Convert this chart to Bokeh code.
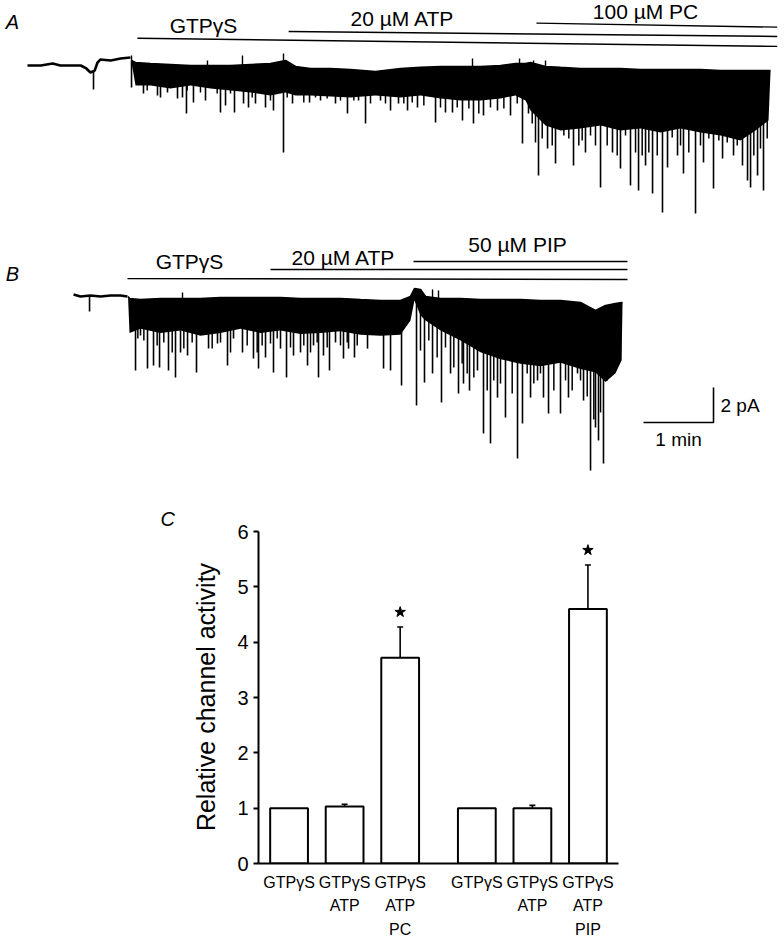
import numpy as np
from bokeh.plotting import figure
from bokeh.layouts import column, row
from bokeh.models import Range1d, FactorRange, ColumnDataSource, Whisker, TeeHead, FixedTicker
from bokeh.core.properties import value
from bokeh.embed import file_html
from bokeh.resources import INLINE

FONT = "Liberation Sans"

# ---------------- Panel A : trace (time in min, current in pA) ----------------
a_pre_t = [0, 0.19, 0.36, 0.47, 0.76, 0.84, 0.90, 0.96, 1.00, 1.04, 1.19, 1.33, 1.47]
a_pre_i = [0, 0, 0.11, 0, 0, -0.17, -0.40, -0.29, 0.17, 0.34, 0.29, 0.40, 0.46]
a_band_t = [1.486, 1.543, 1.757, 2.043, 2.329, 2.614, 2.9, 3.186, 3.471, 3.686,
            3.829, 4.043, 4.329, 4.614, 4.971, 5.329, 5.614, 5.9, 6.186, 6.471,
            6.757, 6.971, 7.114, 7.186, 7.4, 7.614, 7.9, 8.186, 8.471, 8.757,
            9.043, 9.329, 9.614, 9.9, 10.186, 10.4, 10.586, 10.614]
a_band_top = [0.29, 0.17, 0.11, 0.06, 0, 0, 0, 0.06, 0.11, 0.29,
              -0.06, -0.17, -0.17, -0.23, -0.34, -0.17, -0.11, -0.06, -0.06, -0.06,
              0, 0.11, 0.11, 0.17, -0.06, -0.11, -0.17, -0.17, -0.17, -0.23,
              -0.23, -0.23, -0.23, -0.29, -0.29, -0.29, -0.29, -0.29]
a_band_bot = [0.17, -1.14, -1.14, -1.31, -1.14, -1.31, -1.43, -1.54, -1.71, -1.54,
              -1.71, -1.71, -1.77, -1.83, -1.71, -1.83, -1.71, -1.89, -2.0, -2.0,
              -1.89, -1.71, -2.0, -2.57, -3.43, -3.71, -3.6, -3.43, -3.71, -3.6,
              -3.83, -3.6, -3.83, -4.0, -4.29, -3.71, -3.14, -0.4]
# long openings
a_spk_t = [0.943, 1.486, 1.657, 1.857, 1.9, 2.0, 2.143, 2.214, 2.271, 2.371,
           2.543, 2.757, 2.829, 2.957, 3.086, 3.157, 3.257, 3.4, 3.514, 3.657,
           3.786, 4.029, 4.186, 4.4, 4.571, 4.729, 4.829, 5.043, 5.186, 5.3,
           5.429, 5.571, 5.829, 5.971, 6.071, 6.214, 6.371, 6.514, 6.714, 6.9,
           7.071, 7.157, 7.3, 7.429, 7.543, 7.8, 7.971, 8.186, 8.357, 8.471,
           8.614, 8.729, 8.829, 8.929, 9.071, 9.143, 9.286, 9.371, 9.543, 9.657,
           9.8, 9.929, 10.086, 10.214, 10.286, 10.329, 10.429, 10.514]
a_spk_i = [-1.37, -1.26, -1.6, -1.71, -1.83, -1.54, -1.89, -1.83, -2.74, -2.11,
           -2.0, -2.69, -2.29, -2.69, -2.17, -2.4, -2.17, -2.4, -2.57, -4.97,
           -2.17, -2.11, -2.0, -2.17, -2.74, -2.0, -3.31, -2.0, -2.57, -2.17,
           -2.57, -2.4, -3.26, -2.69, -2.69, -3.14, -3.31, -2.86, -2.57, -2.86,
           -4.46, -2.74, -6.29, -4.74, -5.6, -5.71, -4.97, -6.97, -4.97, -5.89,
           -6.86, -7.14, -5.71, -7.31, -8.4, -5.83, -5.14, -6.17, -8.46, -5.54,
           -7.03, -5.31, -5.14, -5.71, -6.57, -6.97, -6.29, -7.14]
# brief openings
a_brief_t = [1.71, 2.281, 2.471, 2.71, 2.9, 3.21, 3.471, 3.71, 3.947, 4.114,
             4.281, 4.471, 4.662, 4.9, 5.114, 5.376, 5.496, 5.662, 5.9, 6.139,
             6.305, 6.447, 6.614, 6.805, 6.996, 7.21, 7.257, 7.353, 7.496, 7.662,
             7.733, 7.876, 7.924, 8.043, 8.114, 8.281, 8.424, 8.543, 8.686, 8.781,
             8.876, 8.996, 9.21, 9.329, 9.447, 9.614, 9.733, 9.876, 9.996, 10.139,
             10.376, 10.471, 10.567]
a_brief_i = [-1.43, -1.43, -1.54, -1.6, -1.6, -1.83, -2.0, -1.83, -2.11, -1.83,
             -1.89, -2.0, -2.0, -2.17, -2.17, -2.17, -2.11, -2.29, -2.4, -2.4,
             -2.46, -2.74, -2.4, -2.46, -2.17, -3.31, -4.4, -4.17, -4.57, -4.0,
             -4.17, -4.57, -4.29, -4.0, -4.57, -4.57, -5.14, -4.0, -4.97, -5.14,
             -4.97, -5.14, -4.11, -4.57, -4.97, -4.57, -4.17, -4.29, -4.4, -4.57,
             -5.14, -4.74, -4.17]
a_up_t = [1.486, 2.571, 3.071, 3.657, 6.357, 7.029, 7.229, 7.4]
a_up_i = [0.57, 0.29, 0.57, 0.69, 0.4, 0.4, 0.29, 0.29]
a_sol_names = ["GTP\u03b3S", "20 \u00b5M ATP", "100 \u00b5M PC"]
a_sol_t0 = [1.57, 3.73, 7.27]
a_sol_t1 = [10.71, 10.71, 10.71]
a_sol_y0 = [1.56, 1.94, 2.42]
a_sol_y1 = [1.09, 1.66, 2.19]
a_lab_t = [2.514, 5.357, 8.829]
a_lab_y = [2.26, 2.69, 3.11]

# ---------------- Panel B : trace ----------------
b_pre_t = [0, 0.1, 0.243, 0.386, 0.529, 0.671, 0.771]
b_pre_i = [0, -0.11, -0.06, -0.11, -0.06, -0.06, -0.11]
b_band_t = [0.78, 0.8, 0.957, 1.243, 1.529, 1.814, 2.1, 2.386, 2.671, 2.957,
            3.243, 3.529, 3.814, 4.1, 4.386, 4.671, 4.814, 4.871, 4.957, 5.029,
            5.243, 5.529, 5.814, 6.1, 6.386, 6.671, 6.957, 7.243, 7.457, 7.6,
            7.743, 7.829, 7.843]
b_band_top = [-0.11, -0.23, -0.29, -0.23, -0.23, -0.23, -0.17, -0.17, -0.17, -0.17,
              -0.23, -0.23, -0.23, -0.29, -0.34, -0.34, -0.11, 0.34, 0.29, -0.11,
              -0.23, -0.23, -0.29, -0.29, -0.29, -0.34, -0.34, -0.46, -0.91, -0.63,
              -0.51, -0.46, -0.46]
b_band_bot = [-0.23, -2.2, -1.95, -2.2, -2.05, -2.35, -2.2, -1.95, -2.2, -2.05,
              -2.25, -2.2, -2.1, -2.3, -2.35, -2.3, -1.49, -0.34, -1.2, -1.49,
              -2.06, -2.63, -3.3, -3.7, -3.95, -4.1, -3.9, -4.25, -4.45, -5.0,
              -4.5, -3.77, -0.51]
b_spk_t = [0.229, 0.886, 0.957, 1.057, 1.143, 1.229, 1.357, 1.457, 1.529, 1.629,
           1.757, 1.929, 2.057, 2.2, 2.286, 2.414, 2.571, 2.643, 2.743, 2.857,
           2.957, 3.043, 3.143, 3.243, 3.343, 3.429, 3.5, 3.571, 3.657, 3.743,
           3.857, 3.929, 4.014, 4.2, 4.429, 4.529, 4.686, 4.9, 5.014, 5.129,
           5.257, 5.386, 5.5, 5.571, 5.657, 5.771, 5.857, 5.957, 6.057, 6.171,
           6.343, 6.414, 6.529, 6.629, 6.714, 6.786, 6.957, 7.071, 7.2, 7.286,
           7.386, 7.457, 7.5, 7.571, 7.671, 7.743, 7.814]
b_spk_i = [-0.97, -4.34, -2.34, -4.23, -4.06, -4.17, -4.34, -4.74, -3.31, -3.49,
           -4.46, -3.09, -2.8, -4.06, -2.51, -3.31, -3.66, -4.23, -3.6, -4.46,
           -3.09, -4.74, -3.49, -3.31, -4.06, -2.91, -4.74, -3.49, -4.34, -2.74,
           -3.66, -3.09, -3.6, -3.09, -4.23, -4.34, -5.2, -6.34, -5.03, -4.51,
           -6.17, -4.51, -5.66, -5.09, -5.49, -4.34, -7.94, -8.51, -5.89, -7.03,
           -9.37, -7.37, -5.89, -4.91, -5.89, -6.8, -6.8, -5.89, -4.51, -6.06,
           -10.06, -7.6, -8.34, -9.66, -4.51, -4.17, -3.77]
b_brief_t = [0.919, 1.005, 1.195, 1.29, 1.41, 1.576, 1.695, 1.981, 2.1, 2.243,
             2.481, 2.624, 2.695, 2.814, 2.91, 3.1, 3.29, 3.386, 3.481, 3.624,
             3.814, 3.91, 4.053, 4.957, 5.076, 5.195, 5.314, 5.433, 5.552, 5.624,
             5.719, 5.814, 5.91, 6.004, 6.1, 6.267, 6.481, 6.576, 6.671, 6.862,
             7.029, 7.124, 7.243, 7.339, 7.433, 7.529, 7.624, 7.696, 7.776]
b_brief_i = [-2.51, -2.63, -2.91, -2.74, -3.31, -3.09, -2.74, -3.09, -2.74, -3.31,
             -2.91, -3.31, -2.91, -2.8, -2.51, -3.03, -2.91, -3.31, -2.74, -3.03,
             -2.91, -2.74, -2.91, -3.2, -2.63, -3.6, -3.03, -4.17, -3.94, -4.51,
             -4.74, -3.2, -5.49, -4.91, -5.09, -5.66, -4.51, -5.09, -4.51, -5.49,
             -4.91, -5.49, -4.91, -5.83, -7.14, -6.74, -4.91, -4.17, -3.6]
b_up_t = [1.557, 5.129, 5.214]
b_up_i = [0.11, 0.29, 0.23]
b_sol_names = ["GTP\u03b3S", "20 \u00b5M ATP", "50 \u00b5M PIP"]
b_sol_t0 = [0.771, 2.814, 4.857]
b_sol_t1 = [7.914, 7.914, 7.914]
b_sol_y0 = [0.91, 1.43, 1.89]
b_sol_y1 = [0.86, 1.43, 1.89]
b_lab_t = [1.657, 3.857, 6.343]
b_lab_y = [1.86, 2.11, 2.86]
scale_min = 1.0   # min
scale_pa = 2.0    # pA

# ---------------- Panel C : bar chart ----------------
bar_group = ["PC", "PC", "PC", "PIP", "PIP", "PIP"]
bar_labels = ["GTP\u03b3S", "GTP\u03b3S\nATP", "GTP\u03b3S\nATP\nPC",
              "GTP\u03b3S", "GTP\u03b3S\nATP", "GTP\u03b3S\nATP\nPIP"]
activity = [1.0, 1.03, 3.72, 1.0, 1.0, 4.6]
sem = [0.0, 0.04, 0.555, 0.0, 0.05, 0.795]
significant = [False, False, True, False, False, True]
y_ticks = [0, 1, 2, 3, 4, 5, 6]


def trace_fig(height, xr, yr):
    p = figure(width=784, height=height, x_range=Range1d(*xr), y_range=Range1d(*yr),
               x_axis_type=None, y_axis_type=None, toolbar_location=None,
               output_backend="svg", min_border=0)
    p.outline_line_color = None
    p.background_fill_color = None
    p.border_fill_color = None
    return p


def draw_trace(p, pre_t, pre_i, band_t, band_top, band_bot, spk_t, spk_i,
               brief_t, brief_i, up_t, up_i):
    env_t = np.array(pre_t + band_t)
    env_top = np.array(pre_i + band_top)
    p.line(pre_t, pre_i, line_color="black", line_width=2.6)
    p.varea(x=band_t, y1=band_top, y2=band_bot, fill_color="black")
    p.line(band_t, band_top, line_color="black", line_width=1.6)
    for ts, vs, w in ((spk_t, spk_i, 1.6), (brief_t, brief_i, 1.5), (up_t, up_i, 1.4)):
        s0 = np.interp(ts, env_t, env_top)
        p.segment(x0=ts, y0=s0, x1=ts, y1=vs, line_color="black", line_width=w)


def draw_solutions(p, names, t0, t1, y0, y1, lt, ly):
    p.segment(x0=t0, y0=y0, x1=t1, y1=y1, line_color="black", line_width=1.4)
    p.text(x=lt, y=ly, text=names, text_font=value(FONT), text_font_size="21px",
           text_align="center", text_baseline="middle", text_color="black")


# Panel A  (page rows 0..220)
pa = trace_fig(220, (-0.3857, 10.814), (-8.857, 3.714))
draw_trace(pa, a_pre_t, a_pre_i, a_band_t, a_band_top, a_band_bot, a_spk_t, a_spk_i,
           a_brief_t, a_brief_i, a_up_t, a_up_i)
draw_solutions(pa, a_sol_names, a_sol_t0, a_sol_t1, a_sol_y0, a_sol_y1, a_lab_t, a_lab_y)
pa.text(x=[-0.214], y=[2.46], text=["A"], text_font=value(FONT), text_font_size="20px",
        text_font_style="italic", text_align="center", text_baseline="middle")

# Panel B  (page rows 220..492)
pb = trace_fig(272, (-1.043, 10.157), (-11.314, 4.229))
draw_trace(pb, b_pre_t, b_pre_i, b_band_t, b_band_top, b_band_bot, b_spk_t, b_spk_i,
           b_brief_t, b_brief_i, b_up_t, b_up_i)
draw_solutions(pb, b_sol_names, b_sol_t0, b_sol_t1, b_sol_y0, b_sol_y1, b_lab_t, b_lab_y)
pb.text(x=[-0.871], y=[1.2], text=["B"], text_font=value(FONT), text_font_size="20px",
        text_font_style="italic", text_align="center", text_baseline="middle")
sx, sy = 9.143, -7.31
pb.line([sx - scale_min, sx, sx], [sy, sy, sy + scale_pa], line_color="black", line_width=1.6)
pb.text(x=[sx + 0.1], y=[sy + scale_pa / 2 - 0.05], text=[f"{scale_pa:g} pA"], text_font=value(FONT),
        text_font_size="19px", text_align="left", text_baseline="middle")
pb.text(x=[sx - scale_min / 2], y=[sy - 1.0], text=[f"{scale_min:g} min"], text_font=value(FONT),
        text_font_size="19px", text_align="center", text_baseline="middle")

# Panel C  (page rows 492..941)
factors = list(zip(bar_group, bar_labels))
upper = [a + s for a, s in zip(activity, sem)]
lower = [a - s for a, s in zip(activity, sem)]
pc = figure(width=784, height=449,
            x_range=FactorRange(*factors, group_padding=0.38, range_padding=0.05,
                                range_padding_units="absolute"),
            y_range=Range1d(0, 6.02), toolbar_location=None, output_backend="svg",
            min_border_left=258, min_border_right=166, min_border_top=38, min_border_bottom=78)
pc.outline_line_color = None
pc.grid.visible = False
pc.title.text = "C"
pc.title.align = "left"
pc.title.offset = -98
pc.title.standoff = 2
pc.title.text_font = FONT
pc.title.text_font_size = "20px"
pc.title.text_font_style = "italic"
pc.title.text_color = "black"

pc.vbar(x=factors, top=activity, width=0.68, fill_color="white", line_color="black", line_width=2)
err = [i for i, s in enumerate(sem) if s > 0]
src = ColumnDataSource(dict(x=[factors[i] for i in err], upper=[upper[i] for i in err],
                            lower=[lower[i] for i in err]))
pc.add_layout(Whisker(base="x", upper="upper", lower="lower", source=src, line_width=1.6,
                      upper_head=TeeHead(size=6, line_width=1.6),
                      lower_head=TeeHead(size=6, line_width=1.6)))
sig = [i for i, s in enumerate(significant) if s]
pc.scatter(x=[factors[i] for i in sig], y=[upper[i] + 0.27 for i in sig], marker="star",
           size=11, fill_color="black", line_color="black")

ya = pc.yaxis[0]
ya.ticker = FixedTicker(ticks=y_ticks)
ya.bounds = (0, 6)
ya.axis_line_width = 2
ya.major_tick_line_width = 2
ya.major_tick_out = 5
ya.major_tick_in = 0
ya.minor_tick_out = 0
ya.minor_tick_in = 0
ya.major_label_text_font = FONT
ya.major_label_text_font_size = "20px"
ya.major_label_text_color = "black"
ya.major_label_standoff = 5
ya.axis_label = "Relative channel activity"
ya.axis_label_text_font = FONT
ya.axis_label_text_font_size = "25px"
ya.axis_label_text_font_style = "normal"
ya.axis_label_text_color = "black"
ya.axis_label_standoff = 14

xa = pc.xaxis[0]
xa.axis_line_width = 2
xa.major_tick_out = 0
xa.major_tick_in = 0
xa.major_label_text_font = FONT
xa.major_label_text_font_size = "16px"
xa.major_label_text_color = "black"
xa.major_label_text_line_height = 1.4
xa.major_label_orientation = "horizontal"
xa.major_label_standoff = 10
xa.group_text_font_size = "0px"
xa.group_text_color = None
xa.separator_line_color = None

layout = column(column(pa, pb), row(pc), spacing=0)
open("out.html", "w").write(file_html(layout, INLINE))
